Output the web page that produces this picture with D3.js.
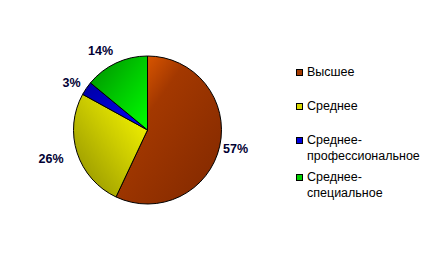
<!DOCTYPE html>
<html>
<head>
<meta charset="utf-8">
<script src="https://cdn.jsdelivr.net/npm/d3@7"></script>
<style>
html,body{margin:0;padding:0;background:#fff;}
svg{display:block;}
</style>
</head>
<body>
<svg id="chart" width="440" height="260"></svg>
<script>
const categories = ["Высшее", "Среднее", "Среднее-профессиональное", "Среднее-специальное"];
const values = [57, 26, 3, 14];
const valueLabels = ["57%", "26%", "3%", "14%"];
const legendLines = [["Высшее"], ["Среднее"], ["Среднее-", "профессиональное"], ["Среднее-", "специальное"]];

const svg = d3.select("#chart");
const cx = 147.5, cy = 130, r = 74;

const grads = [
  {id:"g0", x1:0, y1:0, x2:1, y2:1, stops:[[0,"#ff6a00"],[0.35,"#a33800"],[1,"#802800"]]},
  {id:"g1", x1:1, y1:0, x2:0, y2:1, stops:[[0,"#ffff00"],[0.45,"#cccc00"],[1,"#8a8a00"]]},
  {id:"g2", x1:1, y1:1, x2:0, y2:0, stops:[[0,"#0000ff"],[1,"#0000a0"]]},
  {id:"g3", x1:1, y1:1, x2:0, y2:0, stops:[[0,"#00ff00"],[0.5,"#00c800"],[1,"#008c00"]]}
];
const defs = svg.append("defs");
grads.forEach(g => {
  const lg = defs.append("linearGradient").attr("id", g.id)
    .attr("x1", g.x1).attr("y1", g.y1).attr("x2", g.x2).attr("y2", g.y2);
  g.stops.forEach(s => lg.append("stop").attr("offset", s[0]).attr("stop-color", s[1]));
});
const legendColors = ["#a33a00", "#d8d800", "#0000e0", "#00d000"];

const pie = d3.pie().sort(null).value(d => d)(values);
const arc = d3.arc().innerRadius(0).outerRadius(r);

const g = svg.append("g").attr("transform", `translate(${cx},${cy})`);
g.selectAll("path").data(pie).join("path")
  .attr("d", arc)
  .attr("fill", (d, i) => `url(#g${i})`)
  .attr("stroke", "#000").attr("stroke-width", 1);

// value labels
const labelPos = [[235.5, 153], [51, 163], [71.5, 87], [100.5, 55]];
svg.selectAll("text.val").data(valueLabels).join("text")
  .attr("class", "val")
  .attr("x", (d, i) => labelPos[i][0])
  .attr("y", (d, i) => labelPos[i][1])
  .attr("text-anchor", "middle")
  .attr("font-family", "Arial, 'Liberation Sans', sans-serif")
  .attr("font-weight", "bold")
  .attr("font-size", 12.5)
  .attr("fill", "#000033")
  .text(d => d);

// legend
const legendY = [69, 103, 137, 174];
const lg = svg.append("g");
categories.forEach((c, i) => {
  lg.append("rect").attr("x", 296.5).attr("y", legendY[i] + 0.5)
    .attr("width", 6).attr("height", 6)
    .attr("fill", legendColors[i]).attr("stroke", "#000").attr("stroke-width", 1);
  legendLines[i].forEach((line, j) => {
    lg.append("text").attr("x", 307).attr("y", legendY[i] + 7 + j * 15.5)
      .attr("font-family", "Arial, 'Liberation Sans', sans-serif")
      .attr("font-size", 12.5)
      .attr("fill", "#000")
      .text(line);
  });
});
</script>
</body>
</html>
